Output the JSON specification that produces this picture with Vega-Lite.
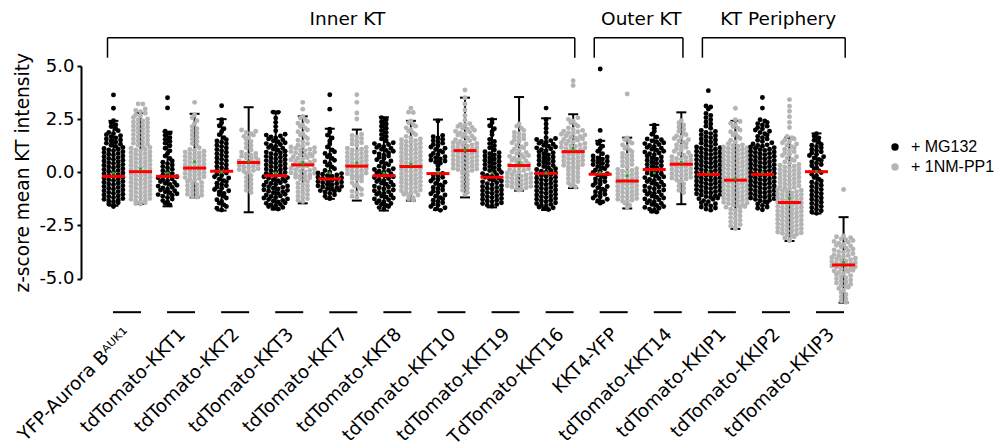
{
"$schema":"https://vega.github.io/schema/vega-lite/v6.json",
"width":795,"height":212.6,
"autosize":{"type":"none"},
"padding":{"left":81,"top":66,"right":124,"bottom":168.4},
"background":"white",
"config":{"view":{"stroke":null},"font":"DejaVu Sans","axis":{"grid":false,"labelColor":"black","titleColor":"black"}},
"datasets":{
"stats":[
{"p":"YFP-Aurora Bᴬᵁᴷ¹","c":"MG132","md":-0.19,"mn":-0.03,"lo":-1.57,"hi":2.42},
{"p":"YFP-Aurora Bᴬᵁᴷ¹","c":"1NM-PP1","md":0.03,"mn":0.16,"lo":-1.49,"hi":2.79},
{"p":"tdTomato-KKT1","c":"MG132","md":-0.19,"mn":-0.03,"lo":-1.6,"hi":1.91},
{"p":"tdTomato-KKT1","c":"1NM-PP1","md":0.2,"mn":0.5,"lo":-1.18,"hi":2.75},
{"p":"tdTomato-KKT2","c":"MG132","md":0.05,"mn":0.0,"lo":-1.8,"hi":2.5},
{"p":"tdTomato-KKT2","c":"1NM-PP1","md":0.46,"mn":0.52,"lo":-1.88,"hi":3.06},
{"p":"tdTomato-KKT3","c":"MG132","md":-0.16,"mn":-0.03,"lo":-1.75,"hi":2.85},
{"p":"tdTomato-KKT3","c":"1NM-PP1","md":0.35,"mn":0.42,"lo":-1.46,"hi":2.63},
{"p":"tdTomato-KKT7","c":"MG132","md":-0.31,"mn":-0.03,"lo":-1.25,"hi":2.05},
{"p":"tdTomato-KKT7","c":"1NM-PP1","md":0.29,"mn":0.44,"lo":-1.33,"hi":2.01},
{"p":"tdTomato-KKT8","c":"MG132","md":-0.16,"mn":-0.03,"lo":-1.8,"hi":2.59},
{"p":"tdTomato-KKT8","c":"1NM-PP1","md":0.27,"mn":0.38,"lo":-1.33,"hi":2.42},
{"p":"tdTomato-KKT10","c":"MG132","md":-0.06,"mn":0.0,"lo":-1.77,"hi":2.48},
{"p":"tdTomato-KKT10","c":"1NM-PP1","md":1.02,"mn":1.05,"lo":-1.18,"hi":3.51},
{"p":"tdTomato-KKT19","c":"MG132","md":-0.23,"mn":-0.03,"lo":-1.65,"hi":2.5},
{"p":"tdTomato-KKT19","c":"1NM-PP1","md":0.32,"mn":0.45,"lo":-0.86,"hi":3.54},
{"p":"TdTomato-KKT16","c":"MG132","md":-0.05,"mn":-0.02,"lo":-1.77,"hi":2.54},
{"p":"TdTomato-KKT16","c":"1NM-PP1","md":0.97,"mn":1.08,"lo":-0.74,"hi":2.73},
{"p":"KKT4-YFP","c":"MG132","md":-0.09,"mn":-0.01,"lo":-1.41,"hi":1.48},
{"p":"KKT4-YFP","c":"1NM-PP1","md":-0.41,"mn":-0.16,"lo":-1.7,"hi":1.63},
{"p":"tdTomato-KKT14","c":"MG132","md":0.13,"mn":-0.03,"lo":-1.88,"hi":2.23},
{"p":"tdTomato-KKT14","c":"1NM-PP1","md":0.38,"mn":0.47,"lo":-1.5,"hi":2.82},
{"p":"tdTomato-KKIP1","c":"MG132","md":-0.1,"mn":0.0,"lo":null,"hi":null},
{"p":"tdTomato-KKIP1","c":"1NM-PP1","md":-0.37,"mn":-0.3,"lo":-2.66,"hi":2.42},
{"p":"tdTomato-KKIP2","c":"MG132","md":-0.1,"mn":0.0,"lo":null,"hi":null},
{"p":"tdTomato-KKIP2","c":"1NM-PP1","md":-1.42,"mn":-1.22,"lo":-3.23,"hi":1.63},
{"p":"tdTomato-KKIP3","c":"MG132","md":0.03,"mn":0.04,"lo":-1.94,"hi":1.83},
{"p":"tdTomato-KKIP3","c":"1NM-PP1","md":-4.36,"mn":-4.24,"lo":-6.13,"hi":-2.11}
],
"br":[
{"t":"Inner KT","a":"YFP-Aurora Bᴬᵁᴷ¹","b":"TdTomato-KKT16","p":"tdTomato-KKT7"},
{"t":"Outer KT","a":"KKT4-YFP","b":"tdTomato-KKT14","p":"tdTomato-KKT14"},
{"t":"KT Periphery","a":"tdTomato-KKIP1","b":"tdTomato-KKIP3","p":"tdTomato-KKIP2"}
],
"pts":[
{"p":"YFP-Aurora Bᴬᵁᴷ¹","c":"MG132","v":[3.64,3.01,2.43,2.33,2.24,2.15,2.05,1.96,1.87,1.82,1.77,1.72,1.67,1.62,1.57,1.52,1.47,1.42,1.37,1.32,1.27,1.22,1.17,1.12,1.09,1.05,1.01,0.97,0.93,0.89,0.85,0.81,0.77,0.73,0.69,0.65,0.61,0.57,0.53,0.49,0.45,0.41,0.37,0.33,0.29,0.25,0.21,0.17,0.13,0.09,0.05,0.01,-0.03,-0.07,-0.11,-0.15,-0.19,-0.23,-0.27,-0.31,-0.35,-0.39,-0.43,-0.47,-0.51,-0.55,-0.59,-0.63,-0.67,-0.71,-0.75,-0.79,-0.83,-0.87,-0.91,-0.95,-0.99,-1.03,-1.07,-1.11,-1.15,-1.19,-1.23,-1.27,-1.31,-1.35,-1.39,-1.43,-1.49,-1.55,-1.61]},
{"p":"YFP-Aurora Bᴬᵁᴷ¹","c":"1NM-PP1","v":[3.22,3.21,2.98,2.91,2.85,2.78,2.71,2.65,2.58,2.51,2.47,2.42,2.37,2.32,2.27,2.22,2.17,2.12,2.07,2.02,1.97,1.92,1.87,1.82,1.77,1.72,1.67,1.62,1.57,1.52,1.47,1.42,1.37,1.32,1.27,1.22,1.17,1.13,1.09,1.05,1.01,0.97,0.93,0.89,0.85,0.81,0.77,0.73,0.69,0.65,0.61,0.57,0.53,0.49,0.45,0.41,0.37,0.33,0.29,0.25,0.21,0.17,0.13,0.09,0.05,0.01,-0.03,-0.07,-0.11,-0.15,-0.19,-0.23,-0.27,-0.31,-0.35,-0.39,-0.43,-0.47,-0.51,-0.55,-0.59,-0.63,-0.67,-0.71,-0.75,-0.79,-0.83,-0.87,-0.91,-0.95,-0.99,-1.03,-1.07,-1.11,-1.15,-1.19,-1.23,-1.27,-1.31,-1.35,-1.39,-1.43,-1.47,-1.49]},
{"p":"tdTomato-KKT1","c":"MG132","v":[3.51,3.03,1.93,1.84,1.74,1.63,1.55,1.45,1.37,1.25,1.13,1.01,0.89,0.77,0.65,0.53,0.47,0.41,0.34,0.27,0.21,0.14,0.07,0.01,-0.06,-0.13,-0.17,-0.21,-0.26,-0.31,-0.35,-0.39,-0.43,-0.48,-0.52,-0.57,-0.61,-0.65,-0.71,-0.74,-0.79,-0.83,-0.87,-0.92,-0.96,-1.01,-1.05,-1.09,-1.13,-1.19,-1.26,-1.33,-1.39,-1.46,-1.53]},
{"p":"tdTomato-KKT1","c":"1NM-PP1","v":[3.29,2.71,2.57,2.43,2.29,2.15,2.05,1.95,1.85,1.75,1.65,1.55,1.45,1.35,1.25,1.15,1.07,1.03,0.99,0.95,0.91,0.87,0.83,0.79,0.75,0.71,0.67,0.63,0.59,0.55,0.51,0.47,0.43,0.39,0.35,0.31,0.27,0.23,0.19,0.15,0.11,0.07,0.03,-0.01,-0.05,-0.09,-0.13,-0.17,-0.21,-0.25,-0.29,-0.33,-0.38,-0.43,-0.48,-0.53,-0.58,-0.63,-0.68,-0.73,-0.78,-0.83,-0.88,-0.93,-0.98,-1.03,-1.08,-1.13,-1.17]},
{"p":"tdTomato-KKT2","c":"MG132","v":[3.13,2.47,2.33,2.19,2.05,1.91,1.77,1.63,1.53,1.47,1.41,1.34,1.27,1.21,1.14,1.07,1.01,0.94,0.87,0.81,0.74,0.67,0.61,0.54,0.47,0.41,0.34,0.27,0.21,0.15,0.09,0.03,-0.03,-0.09,-0.15,-0.21,-0.27,-0.33,-0.39,-0.45,-0.51,-0.57,-0.63,-0.69,-0.75,-0.81,-0.87,-0.93,-0.99,-1.05,-1.13,-1.21,-1.29,-1.37,-1.45,-1.53,-1.61,-1.69,-1.77]},
{"p":"tdTomato-KKT2","c":"1NM-PP1","v":[1.99,1.93,1.87,1.81,1.75,1.69,1.63,1.55,1.45,1.35,1.25,1.15,1.05,0.95,0.89,0.85,0.81,0.76,0.71,0.67,0.63,0.58,0.53,0.49,0.45,0.41,0.37,0.33,0.29,0.25,0.21,0.17,0.13,0.09,0.05,0.01,-0.05,-0.15,-0.25,-0.35,-0.45,-0.55,-0.65,-0.75,-0.85,-0.95]},
{"p":"tdTomato-KKT3","c":"MG132","v":[2.83,2.82,2.55,2.35,2.15,1.95,1.79,1.75,1.71,1.66,1.61,1.57,1.53,1.48,1.44,1.39,1.35,1.31,1.26,1.22,1.17,1.13,1.09,1.04,0.99,0.95,0.91,0.87,0.83,0.79,0.75,0.71,0.67,0.63,0.59,0.55,0.51,0.47,0.43,0.39,0.35,0.31,0.27,0.23,0.19,0.15,0.11,0.07,0.03,-0.01,-0.05,-0.09,-0.13,-0.17,-0.21,-0.25,-0.28,-0.32,-0.35,-0.39,-0.42,-0.46,-0.49,-0.53,-0.56,-0.61,-0.64,-0.68,-0.71,-0.75,-0.78,-0.82,-0.85,-0.89,-0.92,-0.96,-0.99,-1.03,-1.07,-1.11,-1.14,-1.18,-1.21,-1.25,-1.28,-1.32,-1.35,-1.39,-1.43,-1.46,-1.51,-1.53,-1.57,-1.61,-1.65,-1.69,-1.73]},
{"p":"tdTomato-KKT3","c":"1NM-PP1","v":[3.29,2.97,2.63,2.55,2.47,2.39,2.31,2.23,2.15,2.07,1.99,1.91,1.83,1.75,1.67,1.59,1.51,1.43,1.35,1.27,1.23,1.19,1.16,1.12,1.09,1.05,1.02,0.98,0.95,0.91,0.87,0.84,0.81,0.77,0.73,0.69,0.66,0.62,0.59,0.55,0.52,0.48,0.45,0.41,0.37,0.34,0.31,0.27,0.23,0.19,0.16,0.12,0.09,0.05,0.02,-0.02,-0.05,-0.09,-0.12,-0.16,-0.19,-0.23,-0.26,-0.31,-0.37,-0.44,-0.51,-0.57,-0.64,-0.71,-0.77,-0.84,-0.91,-0.97,-1.04,-1.11,-1.17,-1.24,-1.31,-1.37]},
{"p":"tdTomato-KKT7","c":"MG132","v":[3.65,2.97,2.03,1.89,1.75,1.61,1.47,1.33,1.19,1.05,0.97,0.89,0.81,0.73,0.65,0.57,0.49,0.41,0.33,0.25,0.17,0.09,0.01,-0.03,-0.06,-0.09,-0.13,-0.16,-0.19,-0.23,-0.26,-0.29,-0.33,-0.36,-0.39,-0.43,-0.46,-0.49,-0.53,-0.56,-0.59,-0.63,-0.66,-0.69,-0.73,-0.76,-0.79,-0.83,-0.86,-0.89,-0.93,-0.99,-1.06,-1.13,-1.19,-1.24]},
{"p":"tdTomato-KKT7","c":"1NM-PP1","v":[3.65,3.29,2.79,2.51,1.79,1.73,1.66,1.59,1.53,1.46,1.39,1.33,1.26,1.17,1.13,1.09,1.05,1.01,0.97,0.93,0.89,0.85,0.81,0.77,0.73,0.69,0.65,0.61,0.57,0.53,0.49,0.45,0.41,0.37,0.33,0.29,0.25,0.21,0.17,0.13,0.09,0.05,0.01,-0.03,-0.07,-0.11,-0.15,-0.19,-0.23,-0.27,-0.33,-0.41,-0.49,-0.57,-0.65,-0.73,-0.81,-0.89,-0.97,-1.05,-1.13,-1.19]},
{"p":"tdTomato-KKT8","c":"MG132","v":[2.57,2.47,2.37,2.27,2.17,2.07,1.97,1.87,1.77,1.67,1.57,1.47,1.39,1.35,1.31,1.26,1.21,1.17,1.13,1.08,1.03,0.99,0.95,0.91,0.86,0.81,0.77,0.71,0.65,0.59,0.53,0.47,0.41,0.35,0.29,0.23,0.17,0.13,0.09,0.05,0.01,-0.03,-0.07,-0.12,-0.17,-0.21,-0.25,-0.29,-0.34,-0.39,-0.43,-0.47,-0.51,-0.56,-0.61,-0.65,-0.69,-0.73,-0.78,-0.83,-0.87,-0.91,-0.95,-0.99,-1.03,-1.07,-1.12,-1.17,-1.21,-1.25,-1.29,-1.34,-1.39,-1.43,-1.47,-1.51,-1.56,-1.61,-1.66,-1.73]},
{"p":"tdTomato-KKT8","c":"1NM-PP1","v":[3.02,2.83,2.81,2.41,2.33,2.25,2.17,2.09,2.01,1.93,1.85,1.77,1.69,1.61,1.57,1.53,1.49,1.45,1.41,1.37,1.33,1.29,1.25,1.21,1.17,1.13,1.09,1.05,1.01,0.97,0.93,0.89,0.85,0.81,0.77,0.73,0.69,0.65,0.61,0.57,0.53,0.49,0.45,0.41,0.37,0.33,0.29,0.25,0.21,0.17,0.13,0.09,0.05,0.01,-0.03,-0.07,-0.11,-0.15,-0.19,-0.23,-0.27,-0.31,-0.35,-0.39,-0.43,-0.47,-0.51,-0.55,-0.59,-0.63,-0.67,-0.71,-0.75,-0.79,-0.83,-0.87,-0.91,-0.95,-0.99,-1.03,-1.07,-1.13,-1.19,-1.26,-1.31]},
{"p":"tdTomato-KKT10","c":"MG132","v":[2.41,1.73,1.67,1.61,1.55,1.49,1.43,1.37,1.31,1.25,1.19,1.13,1.07,1.01,0.95,0.89,0.83,0.78,0.73,0.68,0.63,0.58,0.53,0.48,0.43,0.31,0.13,-0.05,-0.11,-0.17,-0.23,-0.29,-0.35,-0.41,-0.47,-0.53,-0.59,-0.65,-0.71,-0.77,-0.83,-0.89,-0.95,-1.01,-1.07,-1.13,-1.19,-1.25,-1.31,-1.37,-1.43,-1.49,-1.55,-1.61,-1.67,-1.73,-1.79]},
{"p":"tdTomato-KKT10","c":"1NM-PP1","v":[3.87,3.51,3.21,2.93,2.67,2.45,2.29,2.25,2.21,2.16,2.11,2.07,2.03,1.98,1.93,1.89,1.85,1.81,1.76,1.71,1.67,1.63,1.58,1.53,1.49,1.45,1.41,1.39,1.36,1.33,1.29,1.26,1.23,1.19,1.16,1.13,1.09,1.06,1.03,0.99,0.96,0.93,0.89,0.86,0.83,0.79,0.76,0.73,0.69,0.66,0.63,0.59,0.56,0.53,0.49,0.46,0.43,0.39,0.36,0.33,0.29,0.26,0.23,0.19,0.16,0.13,0.09,0.06,0.03,-0.05,-0.15,-0.25,-0.35,-0.45,-0.55,-0.65,-0.75,-0.85,-0.95,-1.05]},
{"p":"tdTomato-KKT19","c":"MG132","v":[2.47,2.33,2.19,2.05,1.91,1.77,1.55,1.45,1.35,1.25,1.15,1.05,0.97,0.92,0.87,0.82,0.77,0.72,0.67,0.62,0.57,0.52,0.47,0.42,0.37,0.32,0.27,0.22,0.17,0.13,0.08,0.03,-0.01,-0.06,-0.11,-0.15,-0.19,-0.23,-0.28,-0.33,-0.37,-0.41,-0.45,-0.49,-0.54,-0.59,-0.63,-0.67,-0.71,-0.75,-0.79,-0.83,-0.87,-0.91,-0.95,-0.99,-1.03,-1.07,-1.11,-1.15,-1.19,-1.23,-1.27,-1.31,-1.35,-1.39,-1.43,-1.47,-1.51,-1.55,-1.59]},
{"p":"tdTomato-KKT19","c":"1NM-PP1","v":[2.27,2.17,2.07,1.97,1.87,1.81,1.75,1.69,1.63,1.57,1.51,1.45,1.39,1.33,1.27,1.21,1.15,1.09,1.03,0.97,0.93,0.88,0.83,0.79,0.75,0.71,0.66,0.61,0.57,0.53,0.49,0.44,0.39,0.35,0.31,0.27,0.22,0.17,0.13,0.09,0.05,0.01,-0.03,-0.06,-0.09,-0.13,-0.16,-0.19,-0.23,-0.26,-0.29,-0.33,-0.36,-0.39,-0.43,-0.46,-0.49,-0.53,-0.56,-0.59,-0.63,-0.66,-0.69,-0.73,-0.76,-0.79,-0.83]},
{"p":"TdTomato-KKT16","c":"MG132","v":[3.02,2.47,2.27,2.07,1.87,1.63,1.59,1.54,1.49,1.45,1.41,1.37,1.32,1.27,1.23,1.19,1.15,1.11,1.06,1.01,0.97,0.92,0.87,0.82,0.77,0.72,0.67,0.62,0.57,0.52,0.47,0.42,0.37,0.32,0.27,0.22,0.17,0.13,0.09,0.05,0.01,-0.03,-0.07,-0.11,-0.15,-0.19,-0.23,-0.27,-0.31,-0.35,-0.39,-0.43,-0.47,-0.51,-0.55,-0.59,-0.63,-0.67,-0.71,-0.75,-0.79,-0.83,-0.87,-0.91,-0.95,-0.99,-1.03,-1.07,-1.11,-1.15,-1.19,-1.23,-1.27,-1.31,-1.35,-1.39,-1.43,-1.47,-1.51,-1.55,-1.59,-1.63,-1.67,-1.71,-1.75]},
{"p":"TdTomato-KKT16","c":"1NM-PP1","v":[4.31,4.08,2.57,2.49,2.41,2.33,2.25,2.17,2.09,2.01,1.97,1.93,1.91,1.86,1.83,1.79,1.76,1.72,1.69,1.65,1.61,1.58,1.54,1.51,1.47,1.43,1.39,1.36,1.33,1.29,1.25,1.22,1.18,1.15,1.11,1.07,1.04,1.01,0.97,0.93,0.89,0.85,0.81,0.77,0.73,0.69,0.65,0.61,0.57,0.53,0.49,0.45,0.41,0.37,0.33,0.29,0.25,0.21,0.17,0.11,0.04,-0.03,-0.09,-0.16,-0.23,-0.29,-0.36,-0.43,-0.49,-0.56,-0.63,-0.69]},
{"p":"KKT4-YFP","c":"MG132","v":[4.86,1.97,1.47,1.35,1.23,1.11,0.99,0.87,0.77,0.72,0.67,0.62,0.57,0.52,0.47,0.42,0.37,0.32,0.27,0.22,0.17,0.11,0.05,-0.01,-0.07,-0.13,-0.19,-0.25,-0.31,-0.37,-0.43,-0.49,-0.55,-0.61,-0.67,-0.73,-0.79,-0.85,-0.91,-0.97,-1.03,-1.09,-1.15,-1.21,-1.27,-1.33,-1.39,-1.45]},
{"p":"KKT4-YFP","c":"1NM-PP1","v":[3.68,1.61,1.53,1.45,1.37,1.29,1.21,1.13,1.05,0.97,0.89,0.81,0.77,0.71,0.64,0.57,0.51,0.44,0.37,0.31,0.24,0.17,0.13,0.09,0.05,0.01,-0.03,-0.07,-0.11,-0.15,-0.19,-0.23,-0.27,-0.31,-0.35,-0.39,-0.43,-0.47,-0.51,-0.55,-0.59,-0.63,-0.67,-0.71,-0.75,-0.79,-0.83,-0.87,-0.91,-0.95,-0.99,-1.03,-1.07,-1.11,-1.15,-1.19,-1.23,-1.27,-1.31,-1.35,-1.39,-1.45,-1.55,-1.65]},
{"p":"tdTomato-KKT14","c":"MG132","v":[2.21,2.07,1.93,1.79,1.65,1.57,1.53,1.48,1.43,1.39,1.35,1.31,1.26,1.21,1.17,1.13,1.09,1.04,0.99,0.95,0.91,0.87,0.82,0.77,0.72,0.67,0.62,0.57,0.52,0.47,0.42,0.37,0.32,0.27,0.22,0.17,0.12,0.07,0.02,-0.03,-0.07,-0.12,-0.17,-0.21,-0.25,-0.29,-0.34,-0.39,-0.43,-0.47,-0.51,-0.56,-0.61,-0.65,-0.69,-0.73,-0.78,-0.83,-0.87,-0.91,-0.95,-0.99,-1.03,-1.07,-1.12,-1.17,-1.21,-1.25,-1.29,-1.34,-1.39,-1.43,-1.47,-1.51,-1.56,-1.61,-1.65,-1.69,-1.73,-1.78,-1.83,-1.87]},
{"p":"tdTomato-KKT14","c":"1NM-PP1","v":[2.43,2.33,2.23,2.13,2.03,1.93,1.83,1.77,1.71,1.65,1.59,1.53,1.47,1.41,1.35,1.29,1.23,1.17,1.11,1.05,0.99,0.93,0.87,0.81,0.77,0.73,0.69,0.65,0.61,0.57,0.53,0.49,0.45,0.41,0.37,0.33,0.29,0.25,0.21,0.17,0.13,0.09,0.05,0.01,-0.03,-0.07,-0.11,-0.15,-0.19,-0.23,-0.27,-0.31,-0.35,-0.39,-0.45,-0.55,-0.65,-0.75,-0.85,-0.95]},
{"p":"tdTomato-KKIP1","c":"MG132","v":[3.84,3.12,3.07,2.98,2.77,2.67,2.57,2.47,2.37,2.27,2.17,2.07,1.97,1.92,1.87,1.82,1.77,1.72,1.67,1.62,1.57,1.52,1.47,1.42,1.37,1.32,1.27,1.22,1.19,1.16,1.13,1.09,1.06,1.03,0.99,0.96,0.93,0.89,0.86,0.83,0.79,0.76,0.73,0.69,0.66,0.63,0.59,0.56,0.53,0.49,0.46,0.43,0.39,0.36,0.33,0.29,0.26,0.23,0.19,0.16,0.13,0.09,0.06,0.03,-0.01,-0.04,-0.07,-0.11,-0.14,-0.17,-0.21,-0.24,-0.27,-0.31,-0.34,-0.37,-0.41,-0.44,-0.47,-0.51,-0.54,-0.57,-0.61,-0.64,-0.67,-0.71,-0.74,-0.77,-0.81,-0.84,-0.87,-0.91,-0.94,-0.97,-1.01,-1.04,-1.07,-1.11,-1.14,-1.17,-1.21,-1.24,-1.27,-1.33,-1.38,-1.43,-1.48,-1.53,-1.58,-1.63,-1.68,-1.73,-1.78]},
{"p":"tdTomato-KKIP1","c":"1NM-PP1","v":[3.01,2.47,2.39,2.31,2.23,2.15,2.07,1.99,1.91,1.83,1.75,1.67,1.59,1.51,1.43,1.35,1.29,1.26,1.23,1.19,1.16,1.13,1.09,1.06,1.03,0.99,0.96,0.93,0.89,0.86,0.83,0.79,0.76,0.73,0.69,0.66,0.63,0.59,0.56,0.53,0.49,0.46,0.43,0.39,0.36,0.33,0.29,0.26,0.23,0.19,0.16,0.13,0.09,0.06,0.03,-0.01,-0.04,-0.07,-0.11,-0.14,-0.17,-0.21,-0.24,-0.27,-0.31,-0.34,-0.37,-0.41,-0.44,-0.47,-0.51,-0.54,-0.57,-0.61,-0.64,-0.67,-0.71,-0.74,-0.77,-0.81,-0.84,-0.87,-0.91,-0.94,-0.97,-1.01,-1.04,-1.07,-1.11,-1.14,-1.17,-1.21,-1.24,-1.27,-1.31,-1.34,-1.37,-1.41,-1.44,-1.47,-1.51,-1.54,-1.57,-1.61,-1.64,-1.67,-1.73,-1.79,-1.86,-1.93,-1.99,-2.06,-2.13,-2.19,-2.26,-2.33,-2.39,-2.46,-2.53,-2.59,-2.65]},
{"p":"tdTomato-KKIP2","c":"MG132","v":[3.52,3.02,2.47,2.41,2.35,2.29,2.23,2.17,2.11,2.05,1.99,1.93,1.87,1.81,1.75,1.69,1.63,1.57,1.51,1.45,1.39,1.33,1.29,1.26,1.23,1.19,1.16,1.13,1.09,1.06,1.03,0.99,0.96,0.93,0.89,0.86,0.83,0.79,0.76,0.73,0.69,0.66,0.63,0.59,0.56,0.53,0.49,0.46,0.43,0.39,0.36,0.33,0.29,0.26,0.23,0.19,0.16,0.13,0.09,0.06,0.03,-0.01,-0.04,-0.07,-0.11,-0.14,-0.17,-0.21,-0.24,-0.27,-0.31,-0.34,-0.37,-0.41,-0.44,-0.47,-0.51,-0.54,-0.57,-0.61,-0.64,-0.67,-0.71,-0.74,-0.77,-0.81,-0.84,-0.87,-0.91,-0.94,-0.97,-1.01,-1.04,-1.07,-1.11,-1.14,-1.17,-1.21,-1.24,-1.27,-1.31,-1.34,-1.37,-1.43,-1.49,-1.56,-1.63,-1.69,-1.76]},
{"p":"tdTomato-KKIP2","c":"1NM-PP1","v":[3.42,3.11,2.87,2.61,2.35,2.11,1.69,1.63,1.57,1.51,1.45,1.39,1.33,1.27,1.21,1.15,1.09,1.03,0.97,0.91,0.85,0.79,0.73,0.67,0.61,0.55,0.49,0.43,0.37,0.33,0.29,0.25,0.21,0.17,0.13,0.09,0.05,0.01,-0.03,-0.07,-0.11,-0.15,-0.19,-0.23,-0.27,-0.31,-0.35,-0.39,-0.43,-0.47,-0.51,-0.55,-0.59,-0.63,-0.67,-0.71,-0.75,-0.77,-0.81,-0.84,-0.87,-0.91,-0.94,-0.97,-1.01,-1.04,-1.07,-1.11,-1.14,-1.17,-1.21,-1.24,-1.27,-1.31,-1.34,-1.37,-1.41,-1.44,-1.47,-1.51,-1.54,-1.57,-1.61,-1.64,-1.67,-1.71,-1.74,-1.77,-1.81,-1.84,-1.87,-1.91,-1.94,-1.97,-2.01,-2.04,-2.07,-2.11,-2.14,-2.17,-2.21,-2.24,-2.27,-2.31,-2.34,-2.37,-2.41,-2.44,-2.47,-2.51,-2.54,-2.57,-2.61,-2.64,-2.67,-2.71,-2.74,-2.77,-2.81,-2.84,-2.87,-2.91,-2.94,-2.97,-3.03,-3.09,-3.16,-3.22]},
{"p":"tdTomato-KKIP3","c":"MG132","v":[1.81,1.71,1.61,1.51,1.41,1.31,1.27,1.21,1.15,1.09,1.03,0.97,0.91,0.85,0.79,0.73,0.67,0.61,0.55,0.49,0.43,0.37,0.31,0.23,0.15,0.07,-0.01,-0.09,-0.17,-0.25,-0.33,-0.41,-0.47,-0.54,-0.61,-0.67,-0.74,-0.81,-0.87,-0.94,-1.01,-1.07,-1.14,-1.21,-1.27,-1.34,-1.41,-1.47,-1.54,-1.61,-1.67,-1.74,-1.81,-1.87,-1.93]},
{"p":"tdTomato-KKIP3","c":"1NM-PP1","v":[-0.81,-2.99,-3.03,-3.08,-3.13,-3.17,-3.21,-3.25,-3.29,-3.34,-3.39,-3.43,-3.47,-3.51,-3.56,-3.61,-3.65,-3.69,-3.73,-3.77,-3.82,-3.87,-3.91,-3.94,-3.97,-4.01,-4.04,-4.07,-4.11,-4.14,-4.17,-4.21,-4.24,-4.27,-4.31,-4.34,-4.37,-4.41,-4.44,-4.47,-4.51,-4.54,-4.57,-4.61,-4.64,-4.67,-4.71,-4.76,-4.81,-4.86,-4.91,-4.96,-5.01,-5.06,-5.11,-5.16,-5.21,-5.26,-5.31,-5.36,-5.41,-5.46,-5.55,-5.65,-5.75,-5.85,-5.95,-6.05,-6.11]}
]
},
"encoding":{
"x":{"field":"p","type":"nominal","title":null,
"scale":{"domain":["YFP-Aurora Bᴬᵁᴷ¹","tdTomato-KKT1","tdTomato-KKT2","tdTomato-KKT3","tdTomato-KKT7","tdTomato-KKT8","tdTomato-KKT10","tdTomato-KKT19","TdTomato-KKT16","KKT4-YFP","tdTomato-KKT14","tdTomato-KKIP1","tdTomato-KKIP2","tdTomato-KKIP3"],"paddingInner":0,"paddingOuter":0.35},
"axis":{"title":null,"domain":false,"ticks":false,"tickSize":0,"labelAngle":-45,"labelAlign":"right","labelBaseline":"middle","labelFont":"DejaVu Sans","labelFontSize":18.5,"labelPadding":52,"labelOffset":1,"labelColor":"black","labelOverlap":false,"labelLimit":400}}
},
"layer":[
{"data":{"name":"stats"},
"transform":[{"filter":"isValid(datum.lo)"},{"calculate":"datum.c=='MG132'?-0.25:0.25","as":"sh"}],
"mark":{"type":"rule","color":"black","strokeWidth":2},
"encoding":{
"xOffset":{"field":"sh","type":"quantitative","scale":{"domain":[-0.5,0.5],"range":[0,54.1]}},
"y":{"field":"lo","type":"quantitative","title":"z-score mean KT intensity","scale":{"domain":[-5,5],"nice":false},"axis":{"values":[-5,-2.5,0,2.5,5],"labelExpr":"replace(format(datum.value,'.1f'),'−','-')","title":"z-score mean KT intensity","labelFont":"DejaVu Sans","labelFontSize":18,"titleFont":"DejaVu Sans","titleFontSize":18.6,"titleFontWeight":"normal","domainColor":"black","domainWidth":2,"tickColor":"black","tickWidth":2,"tickSize":4,"labelPadding":3,"titlePadding":6,"grid":false}},
"y2":{"field":"hi"}}},
{"data":{"name":"stats"},
"transform":[{"filter":"isValid(datum.lo)"},{"calculate":"datum.c=='MG132'?-0.25:0.25","as":"sh"},{"fold":["lo","hi"],"as":["k","e"]}],
"mark":{"type":"tick","color":"black","thickness":2,"size":10,"opacity":1},
"encoding":{
"xOffset":{"field":"sh","type":"quantitative","scale":{"domain":[-0.5,0.5],"range":[0,54.1]}},
"y":{"field":"e","type":"quantitative","scale":{"domain":[-5,5],"nice":false}}}},
{"data":{"name":"pts"},
"transform":[
{"flatten":["v"]},
{"calculate":"floor(datum.v/0.2)","as":"b"},
{"joinaggregate":[{"op":"count","as":"n"}],"groupby":["p","c","b"]},
{"window":[{"op":"row_number","as":"r"}],"groupby":["p","c","b"],"sort":[{"field":"v","order":"ascending"}]},
{"calculate":"(datum.c=='MG132'?-0.25:0.25)+((datum.r%2==0?-1:1)*floor(datum.r/2)+(datum.n%2==0?0.5:0))*0.087","as":"o"}
],
"mark":{"type":"circle","size":24,"opacity":1},
"encoding":{
"xOffset":{"field":"o","type":"quantitative","scale":{"domain":[-0.5,0.5],"range":[0,54.1]}},
"y":{"field":"v","type":"quantitative","scale":{"domain":[-5,5],"nice":false}},
"color":{"field":"c","type":"nominal","scale":{"domain":["MG132","1NM-PP1"],"range":["#000000","#b4b4b4"]},
"legend":{"orient":"none","legendX":806,"legendY":73,"title":null,"labelFont":"Liberation Sans","labelFontSize":16,"labelColor":"black","symbolType":"circle","symbolSize":55,"symbolStrokeWidth":0,"labelExpr":"'+ ' + datum.label","rowPadding":4,"padding":0,"labelOffset":8}}}},
{"data":{"name":"stats"},
"transform":[{"calculate":"datum.c=='MG132'?-0.25:0.25","as":"sh"}],
"mark":{"type":"tick","color":"#ff0000","thickness":3,"size":23,"opacity":1},
"encoding":{
"xOffset":{"field":"sh","type":"quantitative","scale":{"domain":[-0.5,0.5],"range":[0,54.1]}},
"y":{"field":"md","type":"quantitative","scale":{"domain":[-5,5],"nice":false}}}},
{"data":{"name":"stats"},
"transform":[{"calculate":"datum.c=='MG132'?-0.25:0.25","as":"sh"}],
"mark":{"type":"square","color":"#22aa22","size":7,"opacity":1},
"encoding":{
"xOffset":{"field":"sh","type":"quantitative","scale":{"domain":[-0.5,0.5],"range":[0,54.1]}},
"y":{"field":"mn","type":"quantitative","scale":{"domain":[-5,5],"nice":false}}}},
{"data":{"name":"stats"},
"transform":[{"filter":"datum.c=='MG132'"}],
"mark":{"type":"tick","color":"black","thickness":2,"size":28,"opacity":1},
"encoding":{
"y":{"datum":-6.58,"type":"quantitative","scale":{"domain":[-5,5],"nice":false}}}},
{"data":{"name":"br"},
"transform":[{"fold":["a","b"],"as":["k","p"]},{"calculate":"datum.k=='a'?-0.36:0.28","as":"o"}],
"mark":{"type":"line","color":"black","strokeWidth":1.5},
"encoding":{
"xOffset":{"field":"o","type":"quantitative","scale":{"domain":[-0.5,0.5],"range":[0,54.1]}},
"y":{"datum":6.33,"type":"quantitative","scale":{"domain":[-5,5],"nice":false}},
"detail":{"field":"t"}}},
{"data":{"name":"br"},
"transform":[{"fold":["a","b"],"as":["k","p"]},{"calculate":"datum.k=='a'?-0.36:0.28","as":"o"}],
"mark":{"type":"rule","color":"black","strokeWidth":1.5},
"encoding":{
"xOffset":{"field":"o","type":"quantitative","scale":{"domain":[-0.5,0.5],"range":[0,54.1]}},
"y":{"datum":6.33,"type":"quantitative","scale":{"domain":[-5,5],"nice":false}},
"y2":{"datum":5.39}}},
{"data":{"name":"br"},
"transform":[{"calculate":"datum.t=='Outer KT'?-0.49:(datum.t=='Inner KT'?0.075:0.04)","as":"o"}],
"mark":{"type":"text","font":"DejaVu Sans","fontSize":18.5,"color":"black","baseline":"middle","align":"center"},
"encoding":{
"xOffset":{"field":"o","type":"quantitative","scale":{"domain":[-0.5,0.5],"range":[0,54.1]}},
"y":{"datum":7.23,"type":"quantitative","scale":{"domain":[-5,5],"nice":false}},
"text":{"field":"t"}}}
]
}
